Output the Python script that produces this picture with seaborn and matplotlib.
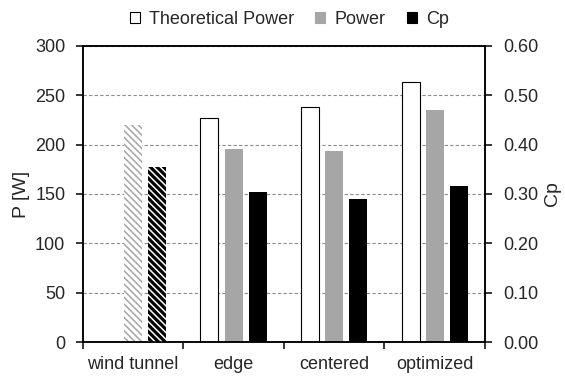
import numpy as np
import pandas as pd
import matplotlib
matplotlib.use("Agg")
import matplotlib.pyplot as plt
import seaborn as sns
from matplotlib.patches import Patch
from matplotlib.ticker import FixedLocator, FormatStrFormatter, MultipleLocator

# Measured turbine output per configuration
configs = ["wind tunnel", "edge", "centered", "optimized"]
theoretical_power = [np.nan, 227, 238, 263]   # W
power = [220, 196, 194, 235]                  # W
cp = [0.354, 0.305, 0.290, 0.317]             # power coefficient

series = ["Theoretical Power", "Power", "Cp"]
colors = {"Theoretical Power": "#ffffff", "Power": "#a6a6a6", "Cp": "#000000"}

sns.set_style("white")
plt.rcParams["font.family"] = ["Liberation Sans", "DejaVu Sans"]
plt.rcParams["hatch.linewidth"] = 1.1

power_df = pd.DataFrame({
    "config": configs * 2,
    "series": ["Theoretical Power"] * len(configs) + ["Power"] * len(configs),
    "value": theoretical_power + power,
}).dropna()
cp_df = pd.DataFrame({"config": configs, "series": "Cp", "value": cp})

fig = plt.figure(figsize=(5.65, 3.76), dpi=100)
ax = fig.add_axes([0.1464, 0.0904, 0.7120, 0.7873])
ax2 = ax.twinx()

common = dict(x="config", y="value", hue="series", hue_order=series,
              order=configs, palette=colors, saturation=1, width=0.72,
              gap=0.25, dodge=True, legend=False, errorbar=None)
sns.barplot(data=power_df, ax=ax, **common)
sns.barplot(data=cp_df, ax=ax2, **common)

# Bar styling: outlined white bars, hatched wind-tunnel reference bars
for axis in (ax, ax2):
    for bar in axis.patches:
        fc = matplotlib.colors.to_hex(bar.get_facecolor())
        center = bar.get_x() + bar.get_width() / 2
        if fc == "#ffffff":
            bar.set_edgecolor("black")
            bar.set_linewidth(0.8)
        else:
            bar.set_linewidth(0)
        if center < 0.5:
            if fc == "#a6a6a6":
                bar.set_facecolor("white")
                bar.set_edgecolor("#a6a6a6")
                bar.set_hatch("\\\\\\\\\\")
            elif fc == "#000000":
                bar.set_facecolor("black")
                bar.set_edgecolor("white")
                bar.set_hatch("\\\\\\\\\\")
            bar.set_linewidth(0)

ax.set_xlim(-0.5, len(configs) - 0.5)
ax.set_ylim(0, 300)
ax2.set_ylim(0, 0.6)
ax.yaxis.set_major_locator(MultipleLocator(50))
ax2.yaxis.set_major_locator(MultipleLocator(0.1))
ax2.yaxis.set_major_formatter(FormatStrFormatter("%.2f"))

ax.set_axisbelow(True)
ax.yaxis.grid(True, linestyle=(0, (3, 2)), color="#8c8c8c", linewidth=0.8)
ax.xaxis.grid(False)
ax2.grid(False)

for axis in (ax, ax2):
    for side in ("left", "right", "top", "bottom"):
        axis.spines[side].set_visible(True)
        axis.spines[side].set_color("black")
        axis.spines[side].set_linewidth(1.1)

ax.xaxis.set_minor_locator(FixedLocator(np.arange(-0.5, len(configs), 1.0)))
ax.tick_params(axis="x", which="major", length=0, pad=10, labelsize=13)
ax.tick_params(axis="x", which="minor", bottom=True, direction="out",
               length=5, width=1.1, color="black")
ax.tick_params(axis="y", left=True, direction="out", length=5, width=1.1,
               color="black", pad=7.5, labelsize=13)
ax2.tick_params(axis="y", right=True, direction="out", length=5, width=1.1,
                color="black", pad=8, labelsize=13)

ax.set_xlabel("")
ax.set_ylabel("P [W]", fontsize=14, labelpad=4)
ax2.set_ylabel("Cp", fontsize=14, labelpad=4)

handles = [Patch(facecolor=colors[s], edgecolor="black" if s == "Theoretical Power" else colors[s],
                 linewidth=0.8, label=s) for s in series]
fig.legend(handles=handles, loc="center", bbox_to_anchor=(0.512, 0.949), ncol=3,
           frameon=False, fontsize=13, handlelength=0.55, handleheight=0.55,
           handletextpad=0.5, columnspacing=1.2)

fig.savefig("out.png", dpi=100)
